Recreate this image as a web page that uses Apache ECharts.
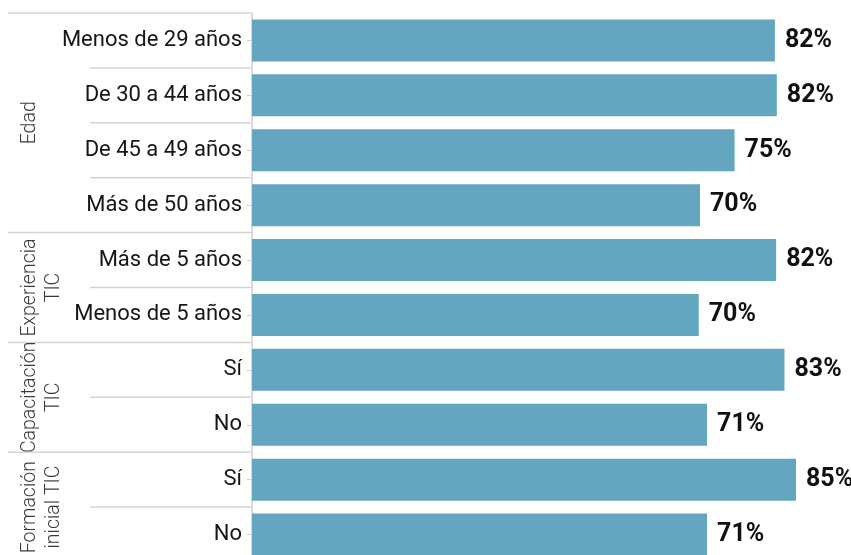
<!DOCTYPE html>
<html><head><meta charset="utf-8">
<script src="https://cdn.jsdelivr.net/npm/echarts@6/dist/echarts.min.js"></script>
<style>html,body{margin:0;padding:0;background:#fff;overflow:hidden}#c{width:900px;height:565px}</style>
</head><body><div id="c"></div>
<script>
const categories = ['Menos de 29 años','De 30 a 44 años','De 45 a 49 años','Más de 50 años','Más de 5 años','Menos de 5 años','Sí','No','Sí','No'];
const values = [81.7, 82.0, 75.4, 70.0, 81.9, 69.8, 83.2, 71.1, 85.0, 71.1];
const groupNames = ['Edad','Experiencia\nTIC','Capacitación\nTIC','Formación\ninicial TIC'];
const groupSizes = [4, 2, 2, 2];

const chart = echarts.init(document.getElementById('c'), null, {renderer: 'canvas'});
chart.setOption({
  animation: false,
  backgroundColor: '#fff',
  grid: {left: 252, top: 13, width: 640, height: 549, containLabel: false},
  xAxis: {type: 'value', min: 0, max: 100, show: false},
  yAxis: {
    type: 'category', data: categories, inverse: true,
    axisLine: {show: true, lineStyle: {color: '#cfcfcf', width: 1.5}},
    axisTick: {show: true, alignWithLabel: true, length: 5, lineStyle: {color: '#cfcfcf'}},
    axisLabel: {color: '#161616', fontSize: 22, fontFamily: 'Roboto, sans-serif', margin: 10}
  },
  series: [{
    type: 'bar', data: values, barWidth: 42,
    itemStyle: {color: '#64a5c0'},
    label: {
      show: true, position: 'right', distance: 10,
      formatter: p => Math.round(p.value) + '%',
      fontFamily: 'Roboto, sans-serif', fontWeight: 'bold', fontSize: 25, color: '#111'
    }
  }]
});

const yc = i => chart.convertToPixel({yAxisIndex: 0}, i);
const band = yc(1) - yc(0);
const boundary = i => yc(0) + (i - 0.5) * band;
const gfx = [];
let start = 0;
groupSizes.forEach((n, g) => {
  gfx.push({type: 'line', shape: {x1: 8, y1: boundary(start), x2: 251, y2: boundary(start)},
    style: {stroke: '#d4d4d4', lineWidth: 1.5}, silent: true});
  for (let k = 1; k < n; k++) {
    gfx.push({type: 'line', shape: {x1: 90, y1: boundary(start + k), x2: 251, y2: boundary(start + k)},
      style: {stroke: '#d4d4d4', lineWidth: 1.5}, silent: true});
  }
  const cy = (boundary(start) + boundary(start + n)) / 2;
  gfx.push({type: 'text', x: 18, y: cy, rotation: Math.PI / 2,
    style: {text: groupNames[g], fill: '#3a3a3a', font: "300 19.5px Roboto, sans-serif",
      align: 'center', verticalAlign: 'top', lineHeight: 24}, silent: true});
  start += n;
});
chart.setOption({graphic: gfx});
</script></body></html>
